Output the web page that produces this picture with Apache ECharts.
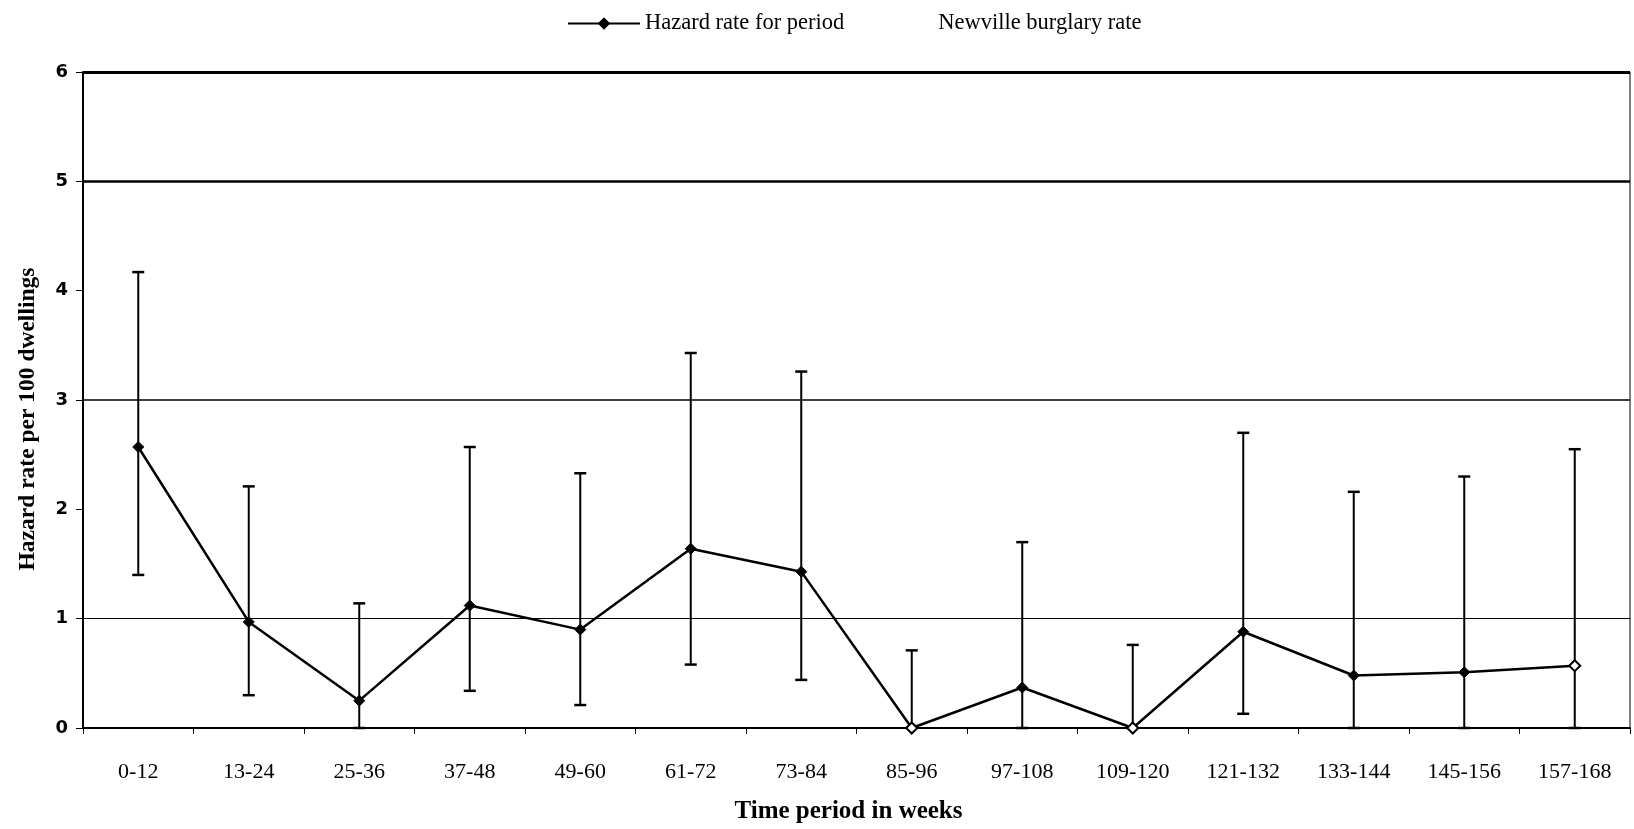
<!DOCTYPE html>
<html>
<head>
<meta charset="utf-8">
<script src="https://cdn.jsdelivr.net/npm/echarts@6/dist/echarts.min.js"></script>
<style>
html,body{margin:0;padding:0;background:#fff;}
#chart{width:1634px;height:829px;}
</style>
</head>
<body>
<div id="chart"></div>
<script>
const categories = ['0-12','13-24','25-36','37-48','49-60','61-72','73-84','85-96','97-108','109-120','121-132','133-144','145-156','157-168'];
const hazardRate = [2.57, 0.97, 0.25, 1.12, 0.90, 1.64, 1.43, 0, 0.37, 0, 0.88, 0.48, 0.51, 0.57];
const upperCI   = [4.17, 2.21, 1.14, 2.57, 2.33, 3.43, 3.26, 0.71, 1.70, 0.76, 2.70, 2.16, 2.30, 2.55];
const lowerCI   = [1.40, 0.30, 0, 0.34, 0.21, 0.58, 0.44, 0, 0, 0, 0.13, 0, 0, 0];
const yTicks = [0, 1, 2, 3, 4, 5, 6];
const refLines = [1, 3, 5, 6];
const seriesNames = ['Hazard rate for period', 'Newville burglary rate'];

// style: indices drawn with hollow markers
const hollowIdx = [7, 9, 13];

const chart = echarts.init(document.getElementById('chart'));
const serif = 'Liberation Serif, Times New Roman, serif';

const lineWidths = {1: 1.2, 3: 1.5, 5: 2.5, 6: 3};

const errorData = categories.map((c, i) => [i, lowerCI[i], upperCI[i]]);

chart.setOption({
  animation: false,
  backgroundColor: '#fff',
  legend: {
    top: 7,
    left: 562,
    itemWidth: 72,
    itemHeight: 12,
    itemGap: 17,
    textStyle: {fontFamily: serif, fontSize: 22.5, color: '#000'},
    data: [
      {name: seriesNames[0]},
      {name: seriesNames[1], icon: 'rect', itemStyle: {opacity: 0}, lineStyle: {opacity: 0}}
    ]
  },
  grid: {left: 83, right: 4, top: 72, bottom: 96, show: true, borderColor: '#000', borderWidth: 1},
  xAxis: {
    type: 'category',
    data: categories,
    boundaryGap: true,
    name: 'Time period in weeks',
    nameLocation: 'middle',
    nameGap: 71,
    nameTextStyle: {fontFamily: serif, fontSize: 25, fontWeight: 'bold', color: '#000', padding: [0, 16, 0, 0]},
    axisLine: {lineStyle: {color: '#000', width: 2}},
    axisTick: {show: true, inside: false, length: 6, alignWithLabel: false, lineStyle: {color: '#000', width: 1}},
    axisLabel: {fontFamily: serif, fontSize: 22, color: '#000', margin: 33, interval: 0},
    splitLine: {show: false}
  },
  yAxis: {
    type: 'value',
    min: yTicks[0],
    max: yTicks[yTicks.length - 1],
    interval: 1,
    name: 'Hazard rate per 100 dwellings',
    nameLocation: 'middle',
    nameGap: 43,
    nameRotate: 90,
    nameTextStyle: {fontFamily: serif, fontSize: 23.5, fontWeight: 'bold', color: '#000', padding: [0, 38, 0, 0]},
    axisLine: {show: true, lineStyle: {color: '#000', width: 2}},
    axisTick: {show: true, length: 7, lineStyle: {color: '#000', width: 1}},
    axisLabel: {fontFamily: 'DejaVu Sans', fontSize: 18, fontWeight: 'bold', color: '#000', margin: 15},
    splitLine: {show: false}
  },
  series: [
    {
      name: 'errbars',
      type: 'custom',
      data: errorData,
      z: 2,
      silent: true,
      renderItem: function (params, api) {
        const x = api.coord([api.value(0), 0])[0];
        const lo = api.coord([api.value(0), api.value(1)])[1];
        const hi = api.coord([api.value(0), api.value(2)])[1];
        const hw = 6;
        const st = {stroke: '#000', lineWidth: 2};
        return {
          type: 'group',
          children: [
            {type: 'line', shape: {x1: x, y1: lo, x2: x, y2: hi}, style: st},
            {type: 'line', shape: {x1: x - hw, y1: hi, x2: x + hw, y2: hi}, style: {stroke: '#000', lineWidth: 2.5}},
            {type: 'line', shape: {x1: x - hw, y1: lo, x2: x + hw, y2: lo}, style: {stroke: '#000', lineWidth: 2.5}}
          ]
        };
      }
    },
    {
      name: seriesNames[0],
      type: 'line',
      data: hazardRate.map((v, i) => hollowIdx.includes(i)
        ? {value: v, itemStyle: {color: '#fff', borderColor: '#000', borderWidth: 2}}
        : {value: v}),
      symbol: 'diamond',
      symbolSize: 11,
      showAllSymbol: true,
      z: 3,
      lineStyle: {color: '#000', width: 2.5},
      itemStyle: {color: '#000', borderColor: '#000', borderWidth: 1}
    },
    {
      name: seriesNames[1],
      type: 'line',
      data: [],
      z: 1,
      lineStyle: {color: '#000', width: 0},
      markLine: {
        silent: true,
        symbol: 'none',
        label: {show: false},
        data: refLines.map(v => ({yAxis: v, lineStyle: {color: '#000', type: 'solid', width: lineWidths[v]}}))
      }
    }
  ]
});
</script>
</body>
</html>
